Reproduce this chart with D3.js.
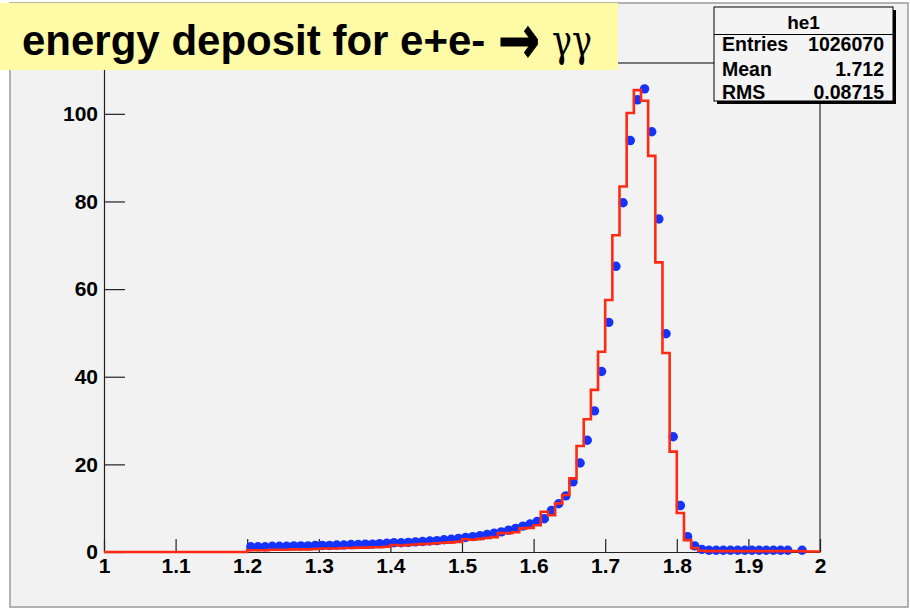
<!DOCTYPE html>
<html>
<head>
<meta charset="utf-8">
<script src="https://cdn.jsdelivr.net/npm/d3@7"></script>
<style>
	body { margin: 0; background: #ffffff; }
	svg { display: block; }
	text { font-family: "Liberation Sans", Arial, sans-serif; font-weight: bold; fill: #000; }
</style>
</head>
<body>
<script>
// histogram he1 (red line): 100 bins from 1.0 to 2.0
var histRange = [1, 2];
var histCounts = [
	0, 0, 0, 0, 0, 0, 0, 0, 0, 0,
	0, 0, 0, 0, 0, 0, 0, 0, 0, 0,
	0.4, 0.4, 0.4, 0.5, 0.5, 0.5, 0.6, 0.6, 0.6, 0.7,
	0.8, 0.8, 0.8, 0.9, 0.9, 1.0, 1.0, 1.1, 1.1, 1.2,
	1.6, 1.5, 1.6, 1.7, 1.8, 1.9, 2.0, 2.1, 2.2, 2.3,
	2.9, 2.8, 3.0, 3.2, 3.4, 4.3, 4.3, 4.5, 5.4, 5.5,
	6.1, 9.2, 8.4, 11.1, 13.0, 16.8, 24.2, 30.3, 37.0, 45.7,
	57.5, 72.3, 83.4, 100.2, 105.4, 103.0, 90.4, 66.1, 45.4, 22.9,
	8.9, 2.7, 0.9, 0.3, 0.2, 0.2, 0.2, 0.2, 0.2, 0.2,
	0.2, 0.2, 0.2, 0.2, 0.2, 0.2, 0.2, 0.2, 0.1, 0.1
];

// data points (blue markers)
var dotBins = [
	1.205, 1.215, 1.225, 1.235, 1.245, 1.255, 1.265, 1.275, 1.285, 1.295,
	1.305, 1.315, 1.325, 1.335, 1.345, 1.355, 1.365, 1.375, 1.385, 1.395,
	1.405, 1.415, 1.425, 1.435, 1.445, 1.455, 1.465, 1.475, 1.485, 1.495,
	1.505, 1.515, 1.525, 1.535, 1.545, 1.555, 1.565, 1.575, 1.585, 1.595,
	1.605, 1.615, 1.625, 1.635, 1.645, 1.655, 1.665, 1.675, 1.685, 1.695,
	1.705, 1.715, 1.725, 1.735, 1.745, 1.755, 1.765, 1.775, 1.785, 1.795,
	1.805, 1.815, 1.825, 1.835, 1.845, 1.855, 1.865, 1.875, 1.885, 1.895,
	1.905, 1.915, 1.925, 1.935, 1.945, 1.955, 1.975
];
var dotCounts = [
	1.2, 1.2, 1.2, 1.3, 1.3, 1.3, 1.4, 1.4, 1.4, 1.5,
	1.5, 1.5, 1.6, 1.6, 1.7, 1.7, 1.8, 1.8, 1.9, 2.0,
	2.1, 2.1, 2.2, 2.3, 2.4, 2.5, 2.6, 2.8, 2.9, 3.1,
	3.3, 3.5, 3.7, 4.0, 4.3, 4.6, 5.0, 5.4, 5.9, 6.4,
	7.0, 7.6, 9.5, 11.0, 12.8, 16.0, 20.3, 25.5, 32.2, 41.2,
	52.4, 65.2, 79.7, 93.9, 103.2, 105.7, 95.9, 76.0, 49.8, 26.3,
	10.6, 3.5, 1.4, 0.6, 0.4, 0.4, 0.4, 0.4, 0.4, 0.4,
	0.4, 0.4, 0.4, 0.4, 0.4, 0.4, 0.4
];

var xTickValues = [1, 1.1, 1.2, 1.3, 1.4, 1.5, 1.6, 1.7, 1.8, 1.9, 2];
var yTickValues = [0, 20, 40, 60, 80, 100];
var yMax = 111.6;

var statsName = "he1";
var statsRows = [["Entries", "1026070"], ["Mean", "1.712"], ["RMS", "0.08715"]];
var titleMain = "energy deposit for e+e-";
var titleArrow = "\u2192";
var titleGreek = "\u03B3\u03B3";

window.onload = function() {
	chart.init();
}

var chart = {

	svg: null,
	x: null,
	y: null,

	frame: {left: 104, right: 820, top: 63, bottom: 552},

	init: function() {
		this.svg = d3.select("body")
			.append("svg")
			.attr("width", 910)
			.attr("height", 613);

		this.x = d3.scaleLinear().domain(histRange).range([this.frame.left, this.frame.right]);
		this.y = d3.scaleLinear().domain([0, yMax]).range([this.frame.bottom, this.frame.top]);

		this.pad();
		this.axes();
		this.points();
		this.hist();
		this.stats();
		this.title();
	},

	pad: function() {
		this.svg.append("rect")
			.attr("x", 10).attr("y", 3)
			.attr("width", 898).attr("height", 604)
			.attr("fill", "#f2f2f2")
			.attr("stroke", "#9a9a9a")
			.attr("stroke-width", 1.5);

		// frame top + right
		this.svg.append("path")
			.attr("d", "M" + this.frame.left + "," + this.frame.top + "H" + this.frame.right + "V" + this.frame.bottom)
			.attr("fill", "none")
			.attr("stroke", "#000")
			.attr("stroke-width", 1);
	},

	axes: function() {
		var fmt = d3.format("~g");
		var xMinor = d3.range(0, 51).map(function(i) { return 1 + i * 0.02; });
		var yMinor = d3.range(0, 23).map(function(i) { return i * 5; });

		var gx = this.svg.append("g")
			.attr("transform", "translate(0," + this.frame.bottom + ")");
		gx.call(d3.axisBottom(this.x).tickValues(xMinor).tickSizeInner(-6.5).tickSizeOuter(0).tickFormat(""));
		gx.call(d3.axisBottom(this.x).tickValues(xTickValues).tickSizeInner(-13).tickSizeOuter(0).tickPadding(6).tickFormat(fmt));

		var gy = this.svg.append("g")
			.attr("transform", "translate(" + this.frame.left + ",0)");
		gy.call(d3.axisLeft(this.y).tickValues(yMinor).tickSizeInner(-11).tickSizeOuter(0).tickFormat(""));
		gy.call(d3.axisLeft(this.y).tickValues(yTickValues).tickSizeInner(-21).tickSizeOuter(0).tickPadding(6).tickFormat(fmt));

		this.svg.selectAll(".domain, .tick line")
			.attr("stroke", "#222")
			.attr("stroke-width", 1.2);
		this.svg.selectAll(".tick text")
			.attr("font-size", 21)
			.attr("fill", "#000");
	},

	points: function() {
		var self = this;
		this.svg.append("g")
			.selectAll("circle")
			.data(dotBins)
			.enter()
			.append("circle")
			.attr("cx", function(d) { return self.x(d); })
			.attr("cy", function(d, i) { return self.y(dotCounts[i]); })
			.attr("r", 4.7)
			.attr("fill", "#1533ff");
	},

	hist: function() {
		var self = this;
		var w = (histRange[1] - histRange[0]) / histCounts.length;
		var pts = histCounts.map(function(c, i) { return [histRange[0] + i * w, c]; });
		pts.push([histRange[1], histCounts[histCounts.length - 1]]);

		var line = d3.line()
			.x(function(d) { return self.x(d[0]); })
			.y(function(d) { return self.y(d[1]); })
			.curve(d3.curveStepAfter);

		this.svg.append("path")
			.attr("d", line(pts))
			.attr("fill", "none")
			.attr("stroke", "#ff2a12")
			.attr("stroke-width", 2.6)
			.attr("stroke-linejoin", "miter");
	},

	stats: function() {
		var bx = 714, by = 7, bw = 179, bh = 94;
		// shadow
		this.svg.append("rect")
			.attr("x", bx + 3).attr("y", by + 3)
			.attr("width", bw).attr("height", bh)
			.attr("fill", "#000");
		this.svg.append("rect")
			.attr("x", bx).attr("y", by)
			.attr("width", bw).attr("height", bh)
			.attr("fill", "#f4f4f4")
			.attr("stroke", "#000")
			.attr("stroke-width", 1);
		this.svg.append("line")
			.attr("x1", bx).attr("x2", bx + bw)
			.attr("y1", 34.5).attr("y2", 34.5)
			.attr("stroke", "#000");

		this.svg.append("text")
			.attr("x", bx + bw / 2).attr("y", 29)
			.attr("text-anchor", "middle")
			.attr("font-size", 19)
			.text(statsName);

		var rowY = [50.5, 76, 98.5];
		var g = this.svg.append("g").attr("font-size", 19.5);
		statsRows.forEach(function(r, i) {
			g.append("text").attr("x", 722).attr("y", rowY[i]).text(r[0]);
			g.append("text").attr("x", 884).attr("y", rowY[i]).attr("text-anchor", "end").text(r[1]);
		});
	},

	title: function() {
		this.svg.append("rect")
			.attr("x", 0).attr("y", 3)
			.attr("width", 618).attr("height", 67)
			.attr("fill", "#fffaa6");

		this.svg.append("text")
			.attr("x", 22).attr("y", 55)
			.attr("font-size", 42)
			.text(titleMain);
		// heavy arrow like the ROOT symbol font (css beats attributes, so use style)
		this.svg.append("text")
			.attr("x", 498).attr("y", 63)
			.attr("font-size", 68)
			.style("font-family", "'DejaVu Sans', sans-serif")
			.style("font-weight", "bold")
			.attr("stroke", "#000")
			.attr("stroke-width", 1)
			.attr("textLength", 42)
			.attr("lengthAdjust", "spacingAndGlyphs")
			.text(titleArrow);
		this.svg.append("text")
			.attr("x", 552).attr("y", 56)
			.attr("font-size", 45)
			.style("font-weight", "normal")
			.style("font-family", "'DejaVu Serif', 'Liberation Serif', serif")
			.attr("textLength", 40)
			.attr("lengthAdjust", "spacingAndGlyphs")
			.text(titleGreek);
	}

};
</script>
</body>
</html>
